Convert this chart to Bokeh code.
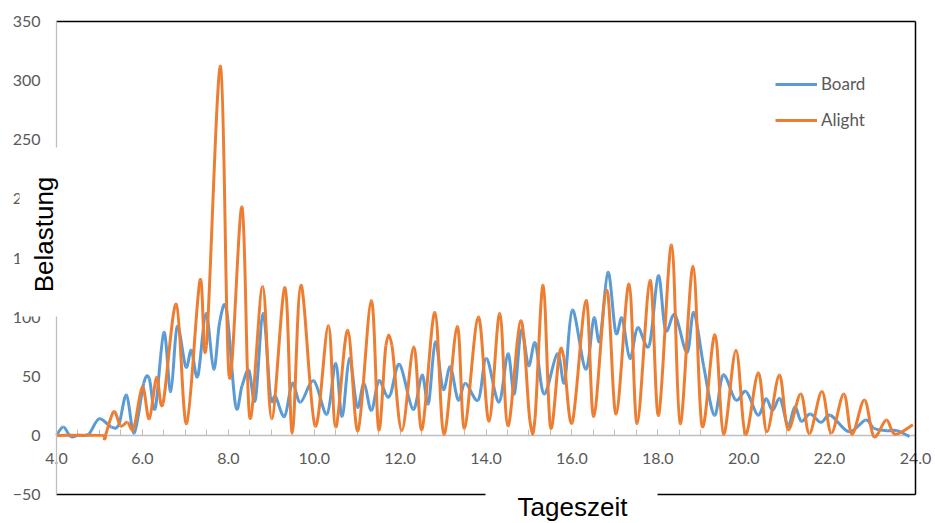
import numpy as np
from bokeh.plotting import figure
from bokeh.models import (Range1d, FixedTicker, PrintfTickFormatter, Label, LinearAxis,
                          Legend, LegendItem, BoxAnnotation)
from bokeh.embed import file_html
from bokeh.resources import INLINE

# ---- data (time of day in hours, load) ----
board_time = [4.00, 4.16, 4.33, 4.50, 4.75, 4.99, 5.28, 5.45, 5.63, 5.81, 6.03, 6.16,
              6.30, 6.50, 6.66, 6.81, 7.01, 7.14, 7.29, 7.48, 7.66, 7.80, 7.96, 8.17,
              8.32, 8.48, 8.63, 8.81, 8.98, 9.10, 9.31, 9.49, 9.68, 9.99, 10.30, 10.50,
              10.65, 10.82, 11.00, 11.16, 11.33, 11.50, 11.68, 11.78, 11.99, 12.30, 12.51,
              12.66, 12.82, 13.00, 13.17, 13.35, 13.52, 13.82, 14.01, 14.30, 14.51, 14.66,
              14.82, 14.99, 15.15, 15.35, 15.66, 15.83, 16.01, 16.32, 16.51, 16.65, 16.84,
              17.02, 17.17, 17.35, 17.53, 17.80, 18.01, 18.18, 18.40, 18.68, 18.84, 19.07,
              19.32, 19.52, 19.81, 20.06, 20.33, 20.52, 20.67, 20.85, 21.03, 21.19, 21.34,
              21.55, 21.80, 22.02, 22.45, 22.84, 23.03, 23.34, 23.57, 23.86]
board_load = [0, 7, -1, 0, 1, 14, 7, 9, 34, 2, 44, 48,
              23, 87, 37, 92, 58, 72, 50, 103, 56, 96, 106, 25,
              42, 55, 30, 103, 33, 33, 16, 44, 28, 46, 18, 61,
              16, 65, 24, 44, 21, 46, 34, 35, 60, 22, 51,
              27, 79, 39, 58, 30, 44, 30, 65, 28, 69, 35,
              89, 59, 78, 35, 69, 45, 106, 56, 99, 80, 138,
              87, 99, 65, 91, 76, 135, 89, 102, 70, 104, 58,
              17, 51, 30, 37, 17, 31, 21, 31, 8, 24, 12,
              18, 11, 17, 3, 13, 6, 4, 4, -1]

alight_time = [4.00, 5.05, 5.12, 5.33, 5.49, 5.65, 5.80, 6.00, 6.16, 6.33, 6.48, 6.79,
               7.03, 7.34, 7.49, 7.82, 8.02, 8.32, 8.50, 8.80, 9.01, 9.32, 9.49, 9.69,
               10.02, 10.33, 10.50, 10.78, 11.02, 11.33, 11.50, 11.67, 11.81, 12.04, 12.32,
               12.51, 12.81, 13.02, 13.33, 13.50, 13.82, 14.07, 14.32, 14.51, 14.81, 15.02,
               15.14, 15.33, 15.50, 15.70, 15.81, 16.01, 16.33, 16.51, 16.81, 17.03, 17.33,
               17.52, 17.82, 18.02, 18.32, 18.52, 18.82, 19.03, 19.33, 19.53, 19.82, 20.04,
               20.34, 20.54, 20.83, 21.03, 21.33, 21.53, 21.82, 22.04, 22.33, 22.52, 22.81,
               23.03, 23.32, 23.52, 23.94]
alight_load = [0, 0, -2, 20, 8, 11, 6, 41, 14, 49, 27, 111,
               10, 131, 76, 312, 50, 193, 15, 126, 14, 125, 2, 127,
               8, 93, 7, 89, 4, 114, 5, 76, 76, 4, 75,
               5, 104, 1, 92, 6, 100, 12, 103, 8, 97, 13,
               14, 127, 7, 67, 66, 11, 114, 16, 123, 18, 128,
               10, 131, 17, 161, 10, 143, 8, 85, 1, 72, 1,
               53, 3, 51, 5, 35, 1.5, 37, 2, 35, 1, 30,
               -1, 13, 1, 9]

x_ticks = [4, 6, 8, 10, 12, 14, 16, 18, 20, 22, 24]
x_minor_ticks = [4.0, 4.5, 5.0, 5.5, 6.0, 6.5, 7.0, 7.5, 8.0, 8.5, 9.0, 9.5, 10.0, 10.5,
                 11.0, 11.5, 12.0, 12.5, 13.0, 13.5, 14.0, 14.5, 15.0, 15.5, 16.0, 16.5,
                 17.0, 17.5, 18.0, 18.5, 19.0, 19.5, 20.0, 20.5, 21.0, 21.5, 22.0, 22.5,
                 23.0, 23.5, 24.0]
y_ticks = [-50, 0, 50, 100, 150, 200, 250, 300, 350]
x_min, x_max = 4, 24
y_min, y_max = -50, 350

series_names = ["Board", "Alight"]
series_colors = ["#5B9BD5", "#ED7D31"]


def smooth_segments(t, v):
    """Bezier segments through the data points (Excel-style smoothed line)."""
    x = np.asarray(t, dtype=float)
    y = np.asarray(v, dtype=float)
    n = len(x)
    xp = np.concatenate([[x[0]], x, [x[-1]]])
    yp = np.concatenate([[y[0]], y, [y[-1]]])
    return dict(
        x0=x[:-1], y0=y[:-1], x1=x[1:], y1=y[1:],
        cx0=x[:-1] + (xp[2:n + 1] - xp[0:n - 1]) / 6.0,
        cy0=y[:-1] + (yp[2:n + 1] - yp[0:n - 1]) / 6.0,
        cx1=x[1:] - (xp[3:n + 2] - xp[1:n]) / 6.0,
        cy1=y[1:] - (yp[3:n + 2] - yp[1:n]) / 6.0,
    )


W, H = 935, 523
# plot area of the reference: x 56..915 px, y 21..494 px; the frame fills the canvas
PX_L, PX_R, PX_T, PX_B = 56, 915, 21, 494
px_per_x = (PX_R - PX_L) / (x_max - x_min)
px_per_y = (PX_B - PX_T) / (y_max - y_min)
xr = Range1d(x_min - PX_L / px_per_x, x_max + (W - PX_R) / px_per_x)
yr = Range1d(y_min - (H - PX_B) / px_per_y, y_max + PX_T / px_per_y)


def dx(px):   # canvas pixel column -> data x (for annotation placement)
    return x_min + (px - PX_L) / px_per_x


def dy(py):   # canvas pixel row -> data y
    return y_min + (PX_B - py) / px_per_y


p = figure(width=W, height=H, x_range=xr, y_range=yr,
           output_backend="svg", toolbar_location=None,
           min_border=0, min_border_left=0, min_border_right=0,
           min_border_top=0, min_border_bottom=0,
           background_fill_color="white", border_fill_color="white",
           outline_line_color=None)

p.xgrid.visible = False
p.ygrid.visible = False

tick_font = "Lato"
tick_color = "#595959"
axis_gray = "#BFBFBF"

xa = p.xaxis[0]
xa.fixed_location = 0
xa.bounds = (x_min, x_max)
xa.level = "underlay"
xa.ticker = FixedTicker(ticks=x_ticks, minor_ticks=x_minor_ticks)
xa.formatter = PrintfTickFormatter(format="%.1f")
xa.axis_line_color = axis_gray
xa.axis_line_width = 1.3
xa.major_tick_line_color = axis_gray
xa.minor_tick_line_color = axis_gray
xa.major_tick_in = 6
xa.major_tick_out = 0
xa.minor_tick_in = 6
xa.minor_tick_out = 0
xa.major_label_text_font = tick_font
xa.major_label_text_font_size = "16px"
xa.major_label_text_color = tick_color
xa.major_label_standoff = 18

ya = p.yaxis[0]
ya.fixed_location = x_min
ya.bounds = (y_min, y_max)
ya.ticker = FixedTicker(ticks=y_ticks)
ya.axis_line_color = axis_gray
ya.axis_line_width = 1.3
ya.major_tick_line_color = None
ya.minor_tick_line_color = None
ya.major_tick_in = 0
ya.major_tick_out = 0
ya.major_label_text_font = tick_font
ya.major_label_text_font_size = "16px"
ya.major_label_text_color = tick_color
ya.major_label_standoff = 16


def border_axis(loc, bounds):
    return LinearAxis(fixed_location=loc, bounds=bounds, axis_line_color="black",
                      axis_line_width=1.5, major_tick_line_color=None,
                      minor_tick_line_color=None, major_label_text_font_size="0px",
                      major_tick_in=0, major_tick_out=0, minor_tick_in=0, minor_tick_out=0,
                      ticker=FixedTicker(ticks=[]))


p.add_layout(border_axis(y_max, (x_min, x_max)), "above")
p.add_layout(border_axis(y_min, (x_min, x_max)), "below")
p.add_layout(border_axis(x_max, (y_min, y_max)), "right")

renderers = []
for t, v, c in [(board_time, board_load, series_colors[0]),
                (alight_time, alight_load, series_colors[1])]:
    r = p.bezier(line_color=c, line_width=3, **smooth_segments(t, v))
    renderers.append(r)

legend = Legend(items=[LegendItem(label=series_names[i], renderers=[renderers[i]]) for i in range(2)],
                location=(775, 393), orientation="vertical",
                border_line_color=None, background_fill_alpha=0,
                label_text_font=tick_font, label_text_font_size="17px",
                label_text_color=tick_color, glyph_width=42, glyph_height=20,
                label_height=20, spacing=15, padding=0, margin=0, label_standoff=4)
p.add_layout(legend)

# white boxes behind the axis titles (as in the reference)
p.add_layout(BoxAnnotation(left=dx(19), right=dx(58), top=dy(147), bottom=dy(316),
                           fill_color="white", fill_alpha=1, line_color=None))
p.add_layout(BoxAnnotation(left=dx(485), right=dx(657), top=dy(488), bottom=dy(540),
                           fill_color="white", fill_alpha=1, line_color=None))

p.add_layout(Label(x=dx(43), y=dy(234), text="Belastung", angle=np.pi / 2,
                   text_align="center", text_baseline="middle",
                   text_font="Liberation Sans", text_font_size="26px", text_color="black"))
p.add_layout(Label(x=dx(572), y=dy(506), text="Tageszeit",
                   text_align="center", text_baseline="middle",
                   text_font="Liberation Sans", text_font_size="26px", text_color="black"))

open("out.html", "w").write(file_html(p, INLINE))
